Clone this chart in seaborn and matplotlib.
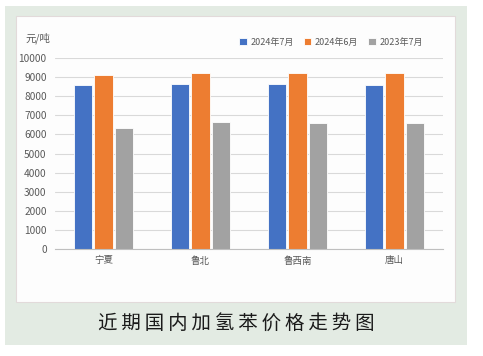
import pandas as pd
import matplotlib.pyplot as plt
import seaborn as sns
from matplotlib.patches import Rectangle

# values
regions = ["宁夏", "鲁北", "鲁西南", "唐山"]
series = ["2024年7月", "2024年6月", "2023年7月"]
jul_2024 = [8580, 8650, 8620, 8580]
jun_2024 = [9100, 9220, 9220, 9220]
jul_2023 = [6320, 6660, 6580, 6580]
yticks = list(range(0, 10001, 1000))

df = pd.DataFrame({
    "region": regions * 3,
    "series": [s for s in series for _ in regions],
    "price": jul_2024 + jun_2024 + jul_2023,
})

sns.set_theme(style="white")
plt.rcParams["font.family"] = ["Noto Sans CJK SC", "DejaVu Sans"]

fig = plt.figure(figsize=(4.83, 3.56), dpi=100)
fig.patch.set_facecolor("white")
# green frame and white card
fig.patches.append(Rectangle((5 / 483, 1 - 345 / 356), 462 / 483, 339 / 356,
                             transform=fig.transFigure, facecolor="#E3EBE3",
                             edgecolor="none", zorder=-2))
fig.patches.append(Rectangle((16 / 483, 1 - 302 / 356), 439 / 483, 286 / 356,
                             transform=fig.transFigure, facecolor="#FDFDFD",
                             edgecolor="#E2DADA", linewidth=0.8, zorder=-1))

ax = fig.add_axes([55 / 483, 1 - 249 / 356, 388 / 483, 191 / 356])
ax.set_zorder(2)
ax.set_facecolor("none")
palette = ["#4472C4", "#ED7D31", "#A2A2A2"]
sns.barplot(data=df, x="region", y="price", hue="series", palette=palette,
            width=0.64, gap=0.12, ax=ax, saturation=1,
            edgecolor="white", linewidth=0.6)

ax.set_ylim(0, 10000)
ax.set_yticks(yticks)
ax.yaxis.grid(True, color="#D9D9D9", linewidth=0.8)
ax.set_axisbelow(True)
for s in ["top", "right", "left"]:
    ax.spines[s].set_visible(False)
ax.spines["bottom"].set_color("#BFBFBF")
ax.spines["bottom"].set_linewidth(0.8)
ax.tick_params(axis="both", length=0, labelcolor="#595959")
ax.tick_params(axis="y", pad=6, labelsize=7.3)
ax.tick_params(axis="x", pad=5, labelsize=6.8)
ax.set_xlabel("")
ax.set_ylabel("")

fig.text(25 / 483, 1 - 38 / 356, "元/吨", fontsize=7.5, color="#595959",
         va="center", ha="left")

ax.legend(loc="lower left", bbox_to_anchor=(231 / 483, 1 - 55 / 356),
          bbox_transform=fig.transFigure, ncol=3, frameon=False, fontsize=6.5,
          handlelength=0.85, handleheight=0.85, handletextpad=0.4,
          columnspacing=1.1, labelcolor="#595959")

fig.text(236 / 483, 1 - 323 / 356, "\u2009".join("近期国内加氢苯价格走势图"),
         fontsize=14, color="#1A1A1A", ha="center", va="center",
         fontweight="medium")

fig.savefig("out.png", dpi=100)
